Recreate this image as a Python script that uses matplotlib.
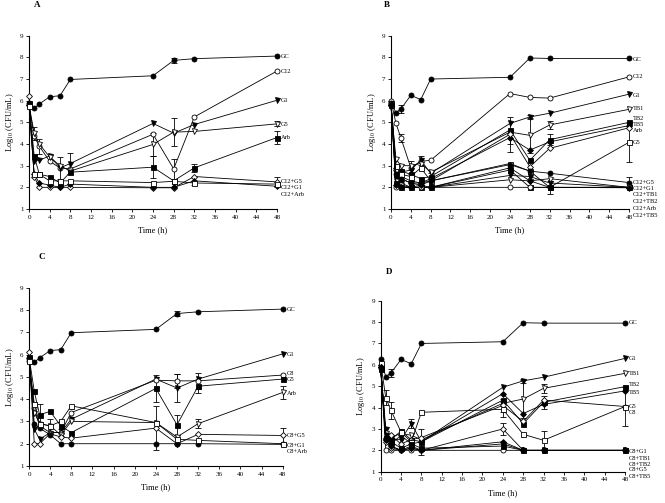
import matplotlib
matplotlib.use("Agg")
import matplotlib.pyplot as plt
import numpy as np

plt.rcParams['font.family'] = ['Liberation Serif', 'DejaVu Serif']
plt.rcParams['mathtext.fontset'] = 'stix'

time = [0, 1, 2, 4, 6, 8, 24, 28, 32, 48]

# ---- panel A
a_labels = ["GC", "C12", "G1", "G5", "Arb", "C12+G5", "C12+G1", "C12+Arb"]
a_values = [
    [5.9, 5.65, 5.85, 6.18, 6.23, 6.98, 7.15, 7.86, 7.94, 8.06],
    [5.8, 4.35, 3.9, 3.2, 2.9, 2.85, 4.45, 2.85, 5.25, 7.37],
    [5.8, 3.2, 3.25, 3.45, 2.9, 3.1, 4.95, 4.5, 4.9, 6.02],
    [5.8, 4.5, 4.0, 3.4, 3.0, 2.75, 3.98, 4.55, 4.58, 4.93],
    [5.9, 3.45, 2.6, 2.5, 2.2, 2.7, 2.93, 2.3, 2.9, 4.3],
    [6.2, 2.5, 2.0, 2.0, 2.0, 2.0, 1.98, 1.98, 2.5, 2.25],
    [5.8, 2.6, 2.2, 2.1, 2.0, 2.15, 2.0, 2.0, 2.3, 2.05],
    [5.75, 2.6, 2.6, 2.3, 2.3, 2.3, 2.22, 2.28, 2.2, 2.15],
]
a_err = [("GC", 28, 0.1), ("C12", 28, 0.45), ("C12", 2, 0.35), ("G5", 28, 0.65),
         ("G5", 24, 0.55), ("G5", 48, 0.12), ("Arb", 48, 0.3), ("Arb", 32, 0.2),
         ("G1", 6, 0.5), ("G1", 8, 0.5), ("G5", 1, 0.3), ("C12+G5", 48, 0.25),
         ("Arb", 24, 0.5), ("C12+G1", 32, 0.2)]
a_label_y = [8.06, 7.37, 6.02, 4.88, 4.3, 2.29, 1.98, 1.68]

# ---- panel B
b_labels = ["GC", "C12", "G1", "TB1", "TB2", "TB5", "Arb", "G5",
            "C12+G5", "C12+G1", "C12+TB1", "C12+TB2", "C12+Arb", "C12+TB5"]
b_values = [
    [5.9, 5.45, 5.62, 6.25, 6.05, 7.0, 7.08, 7.97, 7.95, 7.95],
    [6.0, 4.95, 4.28, 2.9, 3.2, 3.25, 6.33, 6.15, 6.12, 7.1],
    [5.8, 2.95, 2.7, 2.8, 3.25, 2.65, 4.95, 5.25, 5.42, 6.3],
    [5.8, 3.3, 3.0, 3.0, 3.1, 2.7, 4.55, 4.4, 4.88, 5.6],
    [5.85, 2.6, 2.75, 2.6, 2.4, 2.5, 4.65, 3.25, 4.2, 5.0],
    [5.8, 2.9, 2.5, 2.3, 2.2, 2.4, 4.3, 3.72, 4.1, 4.85],
    [5.8, 2.8, 2.4, 2.2, 2.1, 2.3, 4.45, 2.95, 3.8, 4.75],
    [5.9, 3.0, 2.6, 2.5, 2.9, 2.3, 3.1, 2.75, 2.0, 4.08],
    [5.9, 2.6, 2.4, 2.2, 2.2, 2.3, 3.05, 2.75, 2.65, 2.22],
    [5.8, 2.4, 2.2, 2.0, 2.0, 2.0, 2.55, 2.5, 2.2, 2.0],
    [5.8, 2.3, 2.1, 2.0, 2.0, 2.0, 2.35, 2.3, 2.4, 2.0],
    [5.8, 2.2, 2.0, 2.0, 2.0, 2.0, 2.8, 2.0, 2.0, 2.0],
    [5.8, 2.0, 2.0, 2.0, 2.0, 2.0, 2.0, 2.0, 2.0, 2.0],
    [5.8, 2.1, 2.0, 2.0, 2.1, 2.0, 2.9, 2.3, 2.0, 1.98],
]
b_err = [("GC", 2, 0.2), ("C12", 2, 0.2), ("G1", 6, 0.2), ("G5", 8, 0.35),
         ("C12", 4, 0.3), ("Arb", 24, 0.8), ("TB1", 28, 0.8), ("TB2", 32, 0.25),
         ("TB1", 32, 0.2), ("G5", 48, 0.9), ("C12+G5", 48, 0.25),
         ("C12+TB5", 32, 0.3), ("G1", 28, 0.1), ("TB5", 24, 0.3)]
b_label_y = [7.88, 7.1, 6.26, 5.62, 5.18, 4.88, 4.62, 4.08,
             2.22, 1.95, 1.65, 1.34, 1.03, 0.72]

# ---- panel C
c_labels = ["GC", "G1", "C8", "G5", "Arb", "C8+G5", "C8+G1", "C8+Arb"]
c_values = [
    [5.85, 5.65, 5.85, 6.18, 6.22, 6.98, 7.13, 7.84, 7.92, 8.04],
    [5.8, 2.65, 2.2, 2.5, 2.5, 3.1, 4.9, 4.5, 4.9, 6.03],
    [5.7, 3.6, 2.8, 2.5, 2.5, 3.4, 4.85, 4.82, 4.82, 5.08],
    [5.9, 4.35, 3.3, 3.45, 2.8, 2.5, 4.48, 2.85, 4.58, 4.9],
    [5.8, 3.4, 2.9, 2.8, 2.4, 3.0, 2.95, 2.3, 2.9, 4.3],
    [6.12, 2.0, 2.0, 2.45, 2.3, 2.25, 2.7, 2.0, 2.42, 2.37],
    [5.85, 2.9, 2.7, 2.4, 2.0, 2.0, 2.0, 2.0, 2.0, 1.97],
    [5.7, 3.8, 2.9, 2.8, 3.0, 3.7, 2.95, 2.2, 2.15, 2.0],
]
c_err = [("GC", 28, 0.1), ("G5", 24, 0.6), ("G5", 28, 0.45), ("G1", 28, 0.65),
         ("C8", 28, 0.3), ("G5", 32, 0.3), ("C8", 32, 0.35), ("Arb", 48, 0.3),
         ("Arb", 32, 0.2), ("C8+G5", 48, 0.35), ("G5", 2, 0.5), ("C8", 6, 0.15),
         ("Arb", 4, 0.3), ("C8+G5", 24, 1.0)]
c_label_y = [8.0, 6.01, 5.13, 4.86, 4.26, 2.36, 1.94, 1.65]

# ---- panel D
d_labels = ["GC", "G1", "TB1", "TB2", "TB5", "G5", "C8",
            "C8+G1", "C8+TB1", "C8+TB2", "C8+G5", "C8+TB5"]
d_values = [
    [6.25, 5.45, 5.62, 6.25, 6.05, 7.0, 7.08, 7.97, 7.95, 7.95],
    [5.85, 3.0, 2.5, 2.5, 3.25, 2.4, 4.95, 5.25, 5.42, 6.3],
    [5.8, 2.8, 2.6, 2.8, 2.7, 2.5, 4.2, 4.4, 4.9, 5.6],
    [5.85, 2.6, 2.5, 2.9, 2.5, 2.4, 4.35, 3.25, 4.25, 4.98],
    [6.0, 2.55, 2.3, 2.7, 2.3, 2.4, 4.65, 3.72, 4.15, 4.78],
    [5.9, 2.6, 2.7, 2.3, 2.5, 2.6, 4.1, 3.35, 4.35, 4.05],
    [6.1, 4.45, 3.88, 2.85, 2.4, 3.78, 3.92, 2.75, 2.47, 4.05],
    [5.85, 2.0, 2.0, 2.0, 2.0, 2.0, 2.0, 2.0, 2.0, 2.0],
    [5.8, 2.7, 2.2, 2.0, 2.2, 2.0, 2.3, 2.0, 2.0, 2.0],
    [5.8, 2.6, 2.4, 2.1, 2.3, 2.1, 2.2, 2.0, 2.0, 2.0],
    [5.9, 2.4, 2.1, 2.0, 2.1, 2.0, 3.0, 2.0, 2.0, 2.0],
    [5.9, 2.5, 2.2, 2.0, 2.1, 2.0, 2.4, 2.0, 2.0, 2.0],
]
d_err = [("GC", 2, 0.2), ("C8", 2, 0.4), ("G1", 6, 0.2), ("G1", 8, 0.6),
         ("C8", 24, 0.35), ("C8+G5", 24, 0.3), ("TB1", 28, 0.9), ("G1", 28, 0.1),
         ("TB2", 32, 0.3), ("C8", 32, 0.45), ("C8", 48, 0.9), ("TB1", 32, 0.2),
         ("C8", 1, 0.35), ("G5", 24, 0.3)]
d_label_y = [7.97, 6.29, 5.6, 5.1, 4.7, 4.07, 3.77, 1.93, 1.62, 1.36, 1.08, 0.79]

# marker styles (marker, filled)
a_style = [("o", 1), ("o", 0), ("v", 1), ("v", 0), ("s", 1), ("D", 0), ("D", 1), ("s", 0)]
b_style = [("o", 1), ("o", 0), ("v", 1), ("v", 0), ("s", 1), ("D", 1), ("D", 0), ("s", 0),
           ("o", 1), ("v", 1), ("v", 0), ("s", 1), ("o", 0), ("D", 1)]
c_style = [("o", 1), ("v", 1), ("o", 0), ("s", 1), ("v", 0), ("D", 0), ("o", 1), ("s", 0)]
d_style = [("o", 1), ("v", 1), ("v", 0), ("s", 1), ("D", 1), ("D", 0), ("s", 0),
           ("o", 0), ("v", 1), ("s", 1), ("D", 0), ("D", 1)]

fig = plt.figure(figsize=(6.65, 5.03), dpi=100)

rects = {
    "A": [29 / 665, 1 - 209 / 503, 248 / 665, 173.3 / 503],
    "B": [391 / 665, 1 - 209 / 503, 238 / 665, 173.3 / 503],
    "C": [29 / 665, 1 - 466 / 503, 253.7 / 665, 178.3 / 503],
    "D": [380.7 / 665, 1 - 471.7 / 503, 244.3 / 665, 171 / 503],
}
letters = {"A": (36.7, 5), "B": (387.3, 5), "C": (42.3, 257.3), "D": (389, 272.3)}

panels = {
    "A": (a_labels, a_values, a_err, a_label_y, a_style),
    "B": (b_labels, b_values, b_err, b_label_y, b_style),
    "C": (c_labels, c_values, c_err, c_label_y, c_style),
    "D": (d_labels, d_values, d_err, d_label_y, d_style),
}

for key, (labels, values, errs, label_y, style) in panels.items():
    ax = fig.add_axes(rects[key])
    # error bars first
    for name, t, e in errs:
        i = labels.index(name)
        j = time.index(t)
        ax.errorbar([t], [values[i][j]], yerr=[e], fmt="none", ecolor="k",
                    elinewidth=0.6, capsize=2, capthick=0.6, clip_on=False, zorder=2)
    for i, lab in enumerate(labels):
        m, filled = style[i]
        ms = 3.6 if m != "D" else 3.0
        ax.plot(time, values[i], color="k", lw=0.6, marker=m, ms=ms,
                mfc="k" if filled else "white", mec="k", mew=0.6,
                clip_on=False, zorder=3)
        ax.annotate(lab, xy=(48, label_y[i]), xytext=(3, 0), textcoords="offset points",
                    va="center", ha="left", fontsize=4.6, annotation_clip=False)
    ax.set_xlim(0, 48)
    ax.set_ylim(1, 9)
    ax.set_xticks(np.arange(0, 49, 4))
    ax.set_yticks(np.arange(1, 10, 1))
    ax.tick_params(labelsize=5, length=2, width=0.6, pad=2)
    for s in ["top", "right"]:
        ax.spines[s].set_visible(False)
    for s in ["left", "bottom"]:
        ax.spines[s].set_linewidth(0.8)
    ax.set_xlabel("Time (h)", fontsize=6, labelpad=5)
    ax.set_ylabel("Log$_{10}$ (CFU/mL)", fontsize=6, labelpad=3)
    lx, ly = letters[key]
    fig.text(lx / 665, 1 - ly / 503, key, fontsize=6.5, fontweight="bold",
             ha="center", va="center")

fig.savefig("out.png", dpi=100)
